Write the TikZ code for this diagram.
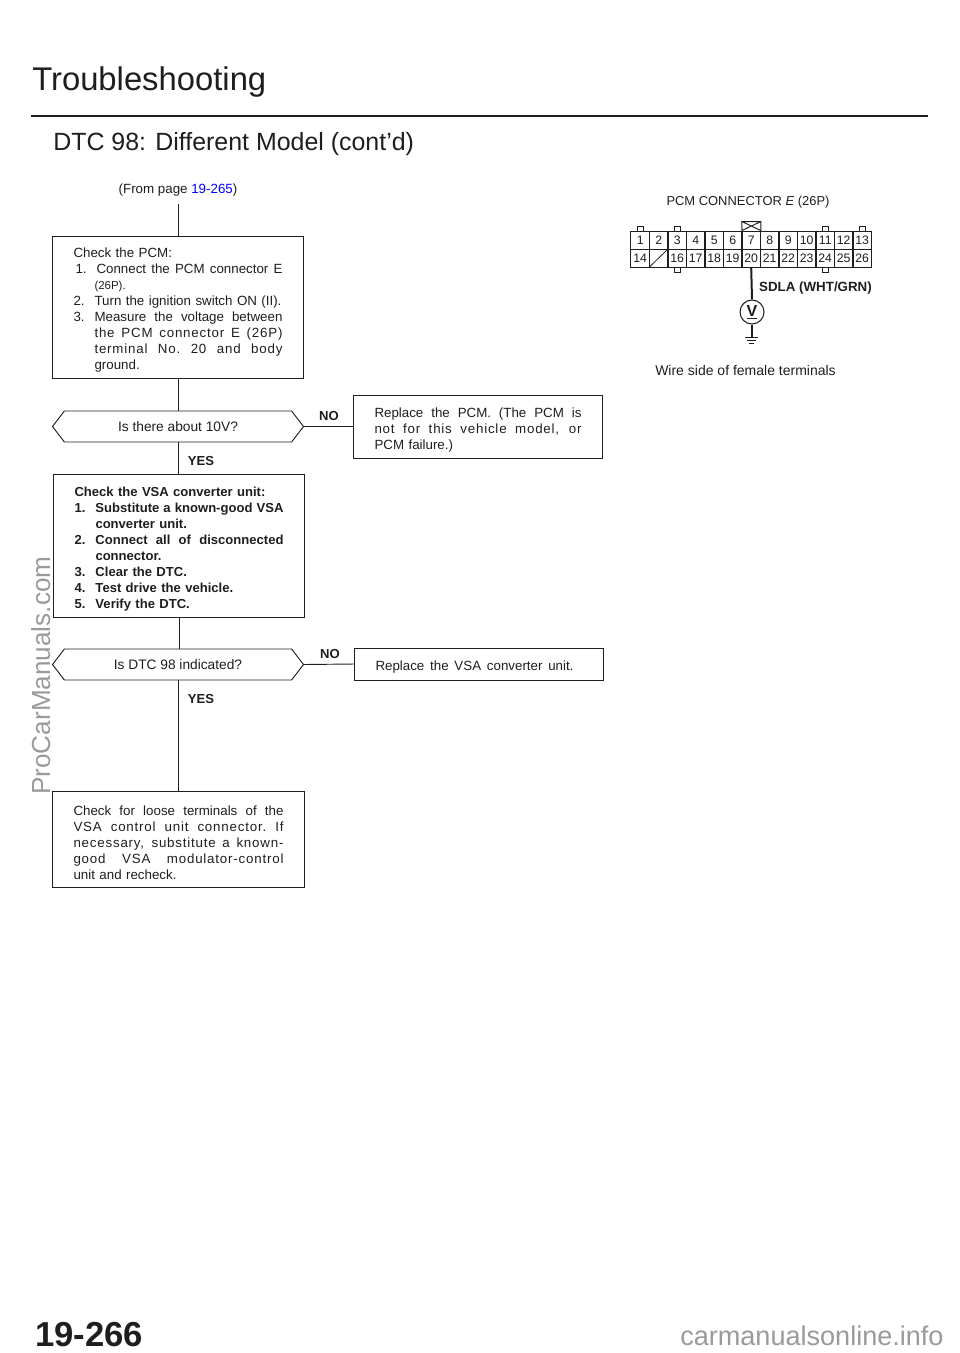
\documentclass[tikz,border=0pt]{standalone}
\usepackage{fontspec}
\setmainfont{Liberation Sans}
\usetikzlibrary{shapes.symbols}
\definecolor{inkgray}{HTML}{1E1E1E}
\definecolor{markgray}{HTML}{9A9A9A}
\newcommand{\jline}[2][156.75pt]{\makebox[#1][s]{\spaceskip=.28em plus 1fil\xspaceskip=\spaceskip #2}}
\newcommand{\hang}{\hspace*{15.75pt}}
\newcommand{\itemno}[1]{\makebox[15.75pt][l]{#1}}
\newcommand{\boxtop}{\rule{0pt}{12.5pt}}
\newcommand{\spaced}{\addfontfeature{LetterSpace=6}}
\tikzset{
	flowbox/.style={draw=inkgray,line width=0.7pt,rectangle,inner xsep=15.75pt,inner ysep=0pt,text width=156.75pt,align=left,font=\fontsize{10}{12}\selectfont,text=inkgray},
	decision/.style={draw=inkgray,line width=0.7pt,signal,signal to=west and east,signal pointer angle=105,inner sep=0pt,minimum width=188.25pt,minimum height=23.25pt,font=\fontsize{10.3}{12}\selectfont,text=inkgray},
	flowline/.style={draw=inkgray,line width=0.7pt},
	answer/.style={font=\bfseries\fontsize{9.8}{12}\selectfont,text=inkgray},
	plain/.style={font=\fontsize{10}{12}\selectfont,text=inkgray},
	pincell/.style={draw=inkgray,line width=0.7pt,minimum width=13.9pt,minimum height=13.5pt,inner sep=0pt,text height=6.6pt,text depth=0pt,font=\fontsize{9.2}{10}\selectfont,text=inkgray},
}
\begin{document}
\begin{tikzpicture}[x=0.75pt,y=-0.75pt]
	\useasboundingbox (0,0) rectangle (960,1353);
	%headings
		\node[anchor=base west,inner sep=0pt,text=inkgray,font=\fontsize{24.6}{28}\selectfont] (title) at (32,90) {Troubleshooting};
		\coordinate (ruleleft) at (31,116);
		\coordinate (ruleright) at (928,116);
		\draw[inkgray,line width=2.2pt] (ruleleft) -- (ruleright);
		\node[anchor=base west,inner sep=0pt,text=inkgray,font=\fontsize{18.7}{22}\selectfont] (dtc) at (53,150) {DTC 98: Different Model (cont'd)};
	%flow
		\node[plain,minimum height=21pt] (from) at (178,190) {(From page \textcolor{blue}{19-265})};
		\node[flowbox,minimum height=106.5pt] (pcmcheck) at (178,307) {\boxtop Check the PCM:\\
			\jline{\hspace*{1.5pt}\itemno{1.}Connect the PCM connector E}\\
			\hang{\fontsize{8.6}{12}\selectfont (26P).}\\
			\itemno{2.}Turn the ignition switch ON (II).\\
			\jline{\itemno{3.}Measure the voltage between}\\
			\hang\jline[141pt]{\spaced the PCM connector E (26P)}\\
			\hang\jline[141pt]{\spaced terminal No. 20 and body}\\
			\hang ground.};
		\node[decision] (volts) at (178,426.5) {Is there about 10V?};
		\node[flowbox,text width=155.25pt,minimum height=47.25pt] (pcmfix) at (478,426.5) {\boxtop\jline[155.25pt]{Replace the PCM. (The PCM is}\\
			\jline[155.25pt]{\spaced not for this vehicle model, or}\\
			PCM failure.)};
		\node[answer] (no1) at (329,415.5) {NO};
		\node[answer] (yes1) at (201,460.5) {YES};
		\node[flowbox,minimum height=107.25pt,font=\bfseries\fontsize{9.8}{12}\selectfont] (vsacheck) at (179,545.5) {\boxtop Check the VSA converter unit:\\
			\jline{\itemno{1.}Substitute a known-good VSA}\\
			\hang converter unit.\\
			\jline{\itemno{2.}Connect all of disconnected}\\
			\hang connector.\\
			\itemno{3.}Clear the DTC.\\
			\itemno{4.}Test drive the vehicle.\\
			\itemno{5.}Verify the DTC.};
		\node[decision] (dtcagain) at (178,664.5) {Is DTC 98 indicated?};
		\node[flowbox,text width=155.25pt,minimum height=24pt] (vsafix) at (479,664) {\boxtop\jline[148.5pt]{Replace the VSA converter unit.}};
		\node[answer] (no2) at (330,653.5) {NO};
		\node[answer] (yes2) at (201,698.5) {YES};
		\node[flowbox,text width=157.5pt,minimum height=72pt] (loose) at (178.5,839) {\boxtop\jline[157.5pt]{Check for loose terminals of the}\\
			\jline[157.5pt]{\spaced VSA control unit connector. If}\\
			\jline[157.5pt]{\spaced necessary, substitute a known-}\\
			\jline[157.5pt]{\spaced good VSA modulator-control}\\
			unit and recheck.};
		\draw[flowline] (from.south) -- (pcmcheck.north);
		\draw[flowline] (pcmcheck.south) -- (volts.north);
		\draw[flowline] (volts.south) -- (volts.south |- vsacheck.north);
		\draw[flowline] (volts.east) -- (pcmfix.west);
		\draw[flowline] (vsacheck.south) -- (vsacheck.south |- dtcagain.north);
		\draw[flowline] (dtcagain.east) -- (vsafix.west);
		\draw[flowline] (dtcagain.south) -- (dtcagain.south |- loose.north);
	%connector
		\node[plain,font=\fontsize{9.7}{12}\selectfont] (connlabel) at (748,202) {PCM CONNECTOR \textit{E} (26P)};
		\foreach \n in {1,...,13} {
			\node[pincell] (pin\n) at ({640.2+(\n-1)*18.5},240) {\n};
		}
		\foreach \n/\col in {14/1,16/3,17/4,18/5,19/6,20/7,21/8,22/9,23/10,24/11,25/12,26/13} {
			\node[pincell] (pin\n) at ({640.2+(\col-1)*18.5},258) {\n};
		}
		\node[pincell] (pin15) at (658.7,258) {};
		\draw[inkgray,line width=0.6pt] (pin15.south west) -- (pin15.north east);
		%latches
		\foreach \n in {1,3,11,13} {
			\draw[inkgray,line width=0.7pt] ([xshift=-2.25pt]pin\n.north) -- ++(0,-4) -- ++(6,0) -- ++(0,4);
		}
		\foreach \n in {16,24} {
			\draw[inkgray,line width=0.7pt] ([xshift=-2.25pt]pin\n.south) -- ++(0,5) -- ++(6,0) -- ++(0,-5);
		}
		\draw[inkgray,line width=0.7pt] ([xshift=-7pt]pin7.north) -- ++(0,-9) -- ++(19,0) -- ++(0,9) -- ++(-19,-9) ++(19,0) -- ++(-19,9);
		%probe
		\node[draw=inkgray,circle,line width=0.8pt,minimum size=18pt,inner sep=0pt,font=\bfseries\fontsize{12}{12}\selectfont,text=inkgray] (meter) at (752,312) {\underline{V}};
		\coordinate (earth) at (752,337);
		\draw[inkgray,line width=1.5pt] (pin20.south) -- (meter.north);
		\draw[inkgray,line width=1pt] (meter.south) -- (earth);
		\draw[inkgray,line width=0.7pt] ([xshift=-5pt]earth) -- ++(13,0) ++(-11,3) -- ++(9,0) ++(-7,3) -- ++(5,0);
		\node[answer,font=\bfseries\fontsize{10}{12}\selectfont] (wirelabel) at (815.5,288) {SDLA (WHT/GRN)};
		\node[plain,font=\fontsize{10.5}{12}\selectfont] (wireside) at (745.5,370.5) {Wire side of female terminals};
	%page marks
		\node[anchor=base west,inner sep=0pt,text=inkgray,font=\bfseries\fontsize{26}{28}\selectfont] (pageno) at (35,1346) {19-266};
		\node[anchor=base west,inner sep=0pt,text=markgray,font=\fontsize{20.3}{22}\selectfont] (footmark) at (680,1345) {carmanualsonline.info};
		\node[rotate=90,anchor=base west,inner sep=0pt,text=markgray,font=\fontsize{19.6}{22}\selectfont] (sidemark) at (50,795) {ProCarManuals.com};
\end{tikzpicture}
\end{document}
